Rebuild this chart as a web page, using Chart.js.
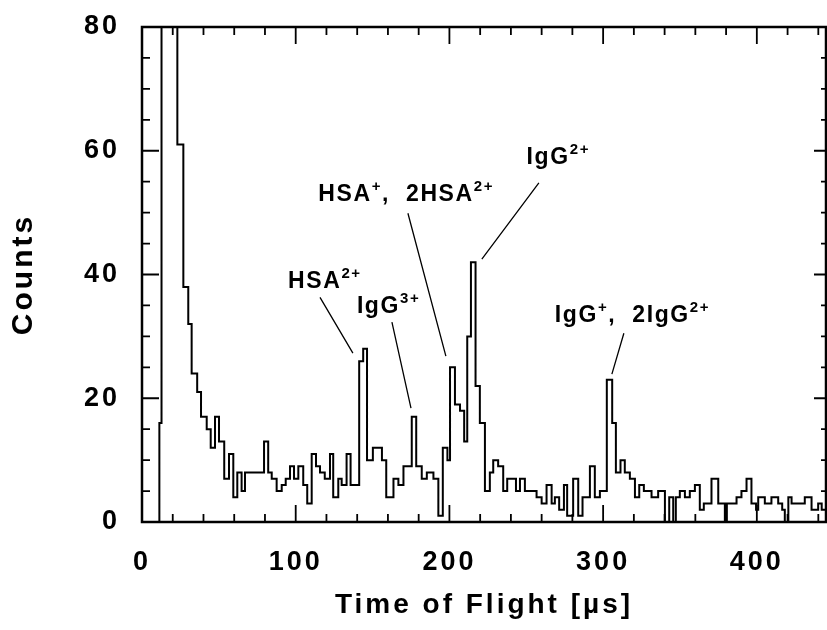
<!DOCTYPE html>
<html><head><meta charset="utf-8">
<script src="https://cdn.jsdelivr.net/npm/chart.js@4/dist/chart.umd.min.js"></script>
<style>html,body{margin:0;padding:0;background:#fff}canvas{display:block}</style>
</head><body>
<canvas id="c" width="827" height="630"></canvas>
<script>
// Histogram: left edge of each step (time of flight, µs) and the counts held from that edge
const binStarts = [0, 11.3, 12.7, 23.0, 26.9, 30.1, 32.3, 35.9, 38.4, 42.1, 44.7, 47.5, 50.1, 53.5, 56.6, 59.4,
  62.0, 64.8, 67.0, 79.4, 82.1, 84.4, 87.6, 90.9, 93.5, 96.3, 98.9, 101.7, 104.9, 107.5, 110.4, 113.2,
  115.8, 118.9, 122.3, 124.4, 127.7, 129.9, 133.1, 135.7, 141.3, 143.9, 146.4, 150.2, 156.1, 158.9, 163.6,
  166.8, 170.1, 175.5, 178.4, 182.0, 185.3, 189.6, 192.8, 195.7, 198.7, 200.4, 203.6, 206.9, 209.6, 211.6,
  214.0, 217.0, 219.8, 223.1, 226.3, 228.5, 231.7, 235.0, 237.6, 243.3, 245.9, 249.1, 252.4, 256.7, 260.0,
  263.2, 266.5, 268.6, 271.4, 274.5, 276.6, 280.5, 283.8, 286.6, 291.4, 294.6, 297.9, 302.4, 305.9, 308.3,
  311.3, 314.1, 317.4, 320.7, 323.5, 326.5, 331.5, 335.8, 340.2, 343.0, 345.6, 347.3, 349.9, 353.2, 356.4,
  359.7, 362.9, 365.5, 370.5, 374.9, 379.2, 380.5, 386.8, 390.0, 393.3, 396.5, 399.5, 400.9, 405.2, 409.5,
  413.9, 416.5, 418.2, 420.5, 422.6, 426.9, 431.2, 435.6, 439.9, 442.2, 445.3];
const counts = [0, 16, 120, 61, 38, 32, 24, 21, 17, 15, 12, 17, 13, 7, 11, 4,
  8, 5, 8, 13, 8, 7, 5, 6, 7, 9, 7, 9, 6, 3, 11, 9,
  8, 7, 11, 4, 7, 6, 11, 6, 26, 28, 10, 12, 10, 4, 7,
  6, 9, 17, 9, 7, 8, 7, 1, 12, 10, 25, 19, 18, 13, 30,
  42, 22, 16, 5, 8, 10, 9, 5, 7, 5, 7, 5, 5, 4, 3,
  6, 3, 4, 2, 6, 1, 7, 1, 4, 9, 4, 5, 23, 16, 8,
  10, 8, 7, 4, 6, 5, 4, 5, 0, 4, 0, 4, 5, 4, 5,
  6, 2, 3, 7, 3, 0, 3, 4, 5, 7, 3, 2, 4, 3, 4,
  3, 2, 0, 4, 3, 3, 4, 2, 3, 2, 2];

const xTickLabels = [0, 100, 200, 300, 400];
const yTickLabels = [0, 20, 40, 60, 80];
const xMinorStep = 20;
const yMinorStep = 5;

// Peak annotations: text segments [text, isSuperscript], anchor in data units
const annotationTexts = [
  [["HSA", 0], ["2+", 1]],
  [["IgG", 0], ["3+", 1]],
  [["HSA", 0], ["+", 1], [",  2HSA", 0], ["2+", 1]],
  [["IgG", 0], ["2+", 1]],
  [["IgG", 0], ["+", 1], [",  2IgG", 0], ["2+", 1]]
];
const annotationX = [95.0, 139.8, 114.7, 250.2, 268.6];
const annotationY = [37.8, 33.7, 51.8, 57.8, 32.3];
// leader lines: from (x1,y1) near label to (x2,y2) near peak
const leaderX1 = [115.8, 162.6, 173.0, 258.2, 313.5];
const leaderY1 = [36.3, 32.3, 49.9, 54.8, 30.5];
const leaderX2 = [137.2, 175.0, 197.7, 221.1, 305.7];
const leaderY2 = [27.3, 18.4, 26.8, 42.5, 23.9];

const FONT = '"Liberation Sans", Arial, Helvetica, sans-serif';

const framePlugin = {
  id: 'frame',
  beforeUpdate(chart) { chart.ctx.letterSpacing = '3px'; },
  beforeDraw(chart) { chart.ctx.letterSpacing = '3px'; },
  afterDatasetsDraw(chart) {
    const {ctx, chartArea: a, scales: {x, y}} = chart;
    ctx.save();
    ctx.strokeStyle = '#000';
    ctx.lineWidth = 2.5;
    ctx.strokeRect(a.left, a.top, a.right - a.left, a.bottom - a.top);
    ctx.lineWidth = 1.8;
    ctx.beginPath();
    for (let v = x.min; v <= x.max; v += xMinorStep) {
      const px = x.getPixelForValue(v);
      const L = xTickLabels.includes(v) ? 17 : 8;
      ctx.moveTo(px, a.bottom); ctx.lineTo(px, a.bottom - L);
      ctx.moveTo(px, a.top); ctx.lineTo(px, a.top + L);
    }
    for (let v = y.min; v <= y.max; v += yMinorStep) {
      const py = y.getPixelForValue(v);
      const major = yTickLabels.includes(v);
      ctx.moveTo(a.left, py); ctx.lineTo(a.left + (major ? 17 : 8), py);
      ctx.moveTo(a.right, py); ctx.lineTo(a.right - (major ? 12 : 5), py);
    }
    ctx.stroke();

    // leader lines
    ctx.lineWidth = 1.3;
    ctx.beginPath();
    for (let i = 0; i < leaderX1.length; i++) {
      ctx.moveTo(x.getPixelForValue(leaderX1[i]), y.getPixelForValue(leaderY1[i]));
      ctx.lineTo(x.getPixelForValue(leaderX2[i]), y.getPixelForValue(leaderY2[i]));
    }
    ctx.stroke();

    // labels
    ctx.fillStyle = '#000';
    ctx.textBaseline = 'alphabetic';
    ctx.textAlign = 'left';
    ctx.letterSpacing = '1.6px';
    annotationTexts.forEach((parts, i) => {
      let px = x.getPixelForValue(annotationX[i]);
      const py = y.getPixelForValue(annotationY[i]);
      parts.forEach(([t, sup]) => {
        ctx.font = sup ? 'bold 15px ' + FONT : 'bold 23px ' + FONT;
        ctx.fillText(t, px, sup ? py - 10 : py);
        px += ctx.measureText(t).width;
      });
    });
    ctx.restore();
  }
};

const points = binStarts.map((b, i) => ({x: b, y: counts[i]}));

new Chart(document.getElementById('c'), {
  type: 'line',
  data: {
    datasets: [{
      data: points,
      stepped: 'before',
      borderColor: '#000',
      borderWidth: 2,
      pointRadius: 0,
      fill: false
    }]
  },
  options: {
    responsive: false,
    animation: false,
    devicePixelRatio: 1,
    layout: {padding: {top: 27, right: 1, left: 0, bottom: 0}},
    plugins: {legend: {display: false}, tooltip: {enabled: false}},
    scales: {
      x: {
        type: 'linear', min: 0, max: 445,
        afterFit(s) { s.height = 108; s.paddingLeft = 0; s.paddingRight = 0; },
        afterBuildTicks(s) { s.ticks = xTickLabels.map(v => ({value: v})); },
        grid: {display: false, drawTicks: false},
        border: {display: false},
        ticks: {color: '#000', padding: 24, maxRotation: 0, autoSkip: false,
          font: {family: FONT, size: 27, weight: 'bold'}},
        title: {display: true, text: 'Time of Flight [\u00b5s]', color: '#000',
          font: {family: FONT, size: 28, weight: 'bold'}, padding: {top: 0, bottom: 8}}
      },
      y: {
        type: 'linear', min: 0, max: 80,
        afterFit(s) { s.width = 142; s.paddingTop = 0; s.paddingBottom = 0; },
        afterBuildTicks(s) { s.ticks = yTickLabels.map(v => ({value: v})); },
        grid: {display: false, drawTicks: false},
        border: {display: false},
        ticks: {color: '#000', padding: 22, font: {family: FONT, size: 27, weight: 'bold'}},
        title: {display: true, text: 'Counts', color: '#000',
          font: {family: FONT, size: 30, weight: 'bold'}, padding: {top: 6, bottom: 0}}
      }
    }
  },
  plugins: [framePlugin]
});
</script>
</body></html>
